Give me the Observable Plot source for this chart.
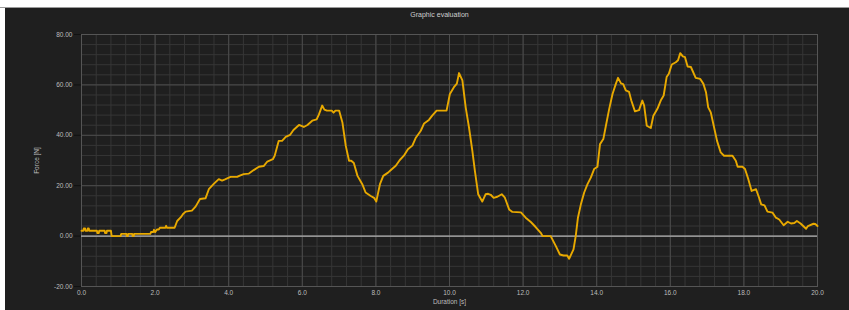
<!DOCTYPE html>
<html>
<head>
<meta charset="utf-8">
<script src="https://cdn.jsdelivr.net/npm/d3@7"></script>
<script src="https://cdn.jsdelivr.net/npm/@observablehq/plot@0.6"></script>
<style>
  html, body { margin: 0; padding: 0; background: #ffffff; }
  body { width: 849px; height: 310px; position: relative; overflow: hidden; }
  #topline { position: absolute; left: 0; top: 7px; width: 849px; height: 1px; background: #9a9a9a; }
  #panel { position: absolute; left: 5px; top: 8px; width: 844px; height: 302px; background: #1f1f1f; }
  #panel svg { display: block; background: transparent; }
</style>
</head>
<body>
<div id="topline"></div>
<div id="panel"></div>
<script>
const chartTitle = "Graphic evaluation";
const xLabel = "Duration [s]";
const yLabel = "Force [N]";
const xTicks = [0, 2, 4, 6, 8, 10, 12, 14, 16, 18, 20];
const yTicks = [-20, 0, 20, 40, 60, 80];
const xMinorTicks = d3.range(0, 20.001, 0.4);
const yMinorTicks = d3.range(-20, 80.001, 4);

// time in seconds
const duration = [
  0, 0.05, 0.06, 0.1, 0.11, 0.16, 0.17, 0.2, 0.21, 0.42, 0.43, 0.47, 0.48, 0.63, 0.64, 0.68, 0.69, 0.8, 0.82,
  1.06, 1.08, 1.22, 1.23, 1.26, 1.27, 1.38, 1.39, 1.42, 1.43, 1.87, 1.89, 1.95, 1.97, 2.0, 2.05, 2.1, 2.13,
  2.28, 2.3, 2.32, 2.53, 2.6, 2.7, 2.76, 2.83, 3.0, 3.1, 3.22, 3.37, 3.46, 3.6, 3.73, 3.82, 3.9, 4.05, 4.23,
  4.3, 4.41, 4.55, 4.68, 4.82, 4.95, 5.05, 5.2, 5.25, 5.36, 5.45, 5.55, 5.67, 5.76, 5.91, 6.04, 6.14, 6.27,
  6.39, 6.45, 6.54, 6.6, 6.67, 6.8, 6.85, 6.9, 7.0, 7.09, 7.18, 7.27, 7.33, 7.4, 7.5, 7.63, 7.72, 7.86, 7.95,
  8.01, 8.11, 8.2, 8.33, 8.4, 8.54, 8.65, 8.76, 8.87, 8.99, 9.08, 9.22, 9.31, 9.44, 9.53, 9.65, 9.92, 10.01,
  10.12, 10.2, 10.26, 10.35, 10.44, 10.53, 10.62, 10.69, 10.78, 10.89, 10.98, 11.05, 11.12, 11.2, 11.3, 11.42,
  11.5, 11.62, 11.71, 11.94, 12.07, 12.21, 12.34, 12.48, 12.53, 12.75, 12.89, 13.0, 13.1, 13.2, 13.25, 13.37,
  13.43, 13.49, 13.57, 13.66, 13.75, 13.84, 13.93, 14.02, 14.09, 14.18, 14.25, 14.34, 14.43, 14.52, 14.58,
  14.66, 14.72, 14.79, 14.88, 14.94, 15.04, 15.15, 15.24, 15.29, 15.36, 15.47, 15.54, 15.65, 15.74, 15.82,
  15.9, 15.96, 16.04, 16.15, 16.21, 16.27, 16.34, 16.4, 16.47, 16.56, 16.69, 16.81, 16.9, 16.97, 17.03, 17.1,
  17.18, 17.27, 17.37, 17.46, 17.69, 17.78, 17.83, 17.96, 18.03, 18.12, 18.21, 18.33, 18.41, 18.47, 18.56,
  18.64, 18.78, 18.87, 18.96, 19.08, 19.19, 19.28, 19.37, 19.44, 19.54, 19.69, 19.74, 19.89, 19.94, 20.0
];
// force in newtons
const force = [
  2.1, 2.1, 3, 3, 2.1, 2.1, 3, 3, 2.1, 2.1, 1.2, 1.2, 2.1, 2.1, 1.2, 1.2, 2.1, 2.1, 0,
  0, 0.9, 0.9, 0, 0, 0.9, 0.9, 0, 0, 0.9, 0.9, 1.6, 1.6, 2.5, 1.6, 2.6, 2.6, 3.3,
  3.3, 4.1, 3.3, 3.3, 6, 7.5, 8.8, 9.7, 10.1, 11.7, 14.7, 15, 18.6, 20.8, 22.6, 22, 22.5, 23.5, 23.5,
  24, 24.6, 24.8, 26.2, 27.5, 27.8, 29.6, 30.5, 31.9, 37.8, 37.8, 39.4, 40.2, 42.1, 44.1, 43.3, 44.1, 45.8,
  46.3, 48.2, 51.8, 50.2, 49.8, 49.8, 49, 49.8, 49.8, 45.1, 35.9, 29.9, 29.9, 29, 23.9, 20.6, 17.3, 15.9, 15.2,
  13.7, 20.6, 23.9, 25.2, 26.1, 27.9, 30.2, 31.9, 34.5, 35.9, 38.9, 41.8, 44.7, 46.1, 47.8, 49.8, 49.8, 56.4,
  59.1, 60.5, 64.7, 61.8, 51.1, 43.1, 33.9, 25.9, 16.6, 13.7, 16.6, 16.8, 16.4, 15.2, 15.6, 16.6,
  15.4, 10.6, 9.6, 9.4, 7.3, 5.6, 3.6, 1.3, 0, 0, -4, -7.3, -7.7, -7.7, -9, -5.3,
  0, 7.3, 12.6, 17.3, 20.6, 23.2, 26.6, 27.5, 36.5, 38.5, 43.8, 50.5, 56.4, 60.4, 62.8,
  60.6, 60.3, 57.8, 57.2, 53.8, 49.5, 50, 53.8, 51.8, 43.8, 42.9, 47.8, 50.5, 53.8, 55.8,
  63.1, 64.4, 68.1, 69, 69.8, 72.6, 71.3, 71, 67.3, 67.1, 62.8, 62.4, 60.4, 57.1, 51.1, 49.1,
  43.8, 37.8, 33.2, 31.9, 31.9, 29.9, 27.5, 27.5, 26.6, 22.6, 17.9, 18.6, 15.3, 12.6, 12.2,
  9.7, 9.3, 7.3, 6.6, 4.3, 5.7, 5, 5.2, 6, 5, 2.9, 4, 4.9, 4.8, 4
];

const data = duration.map((t, i) => ({t, f: force[i]}));

const font = "'Liberation Sans', Arial, sans-serif";

const chart = Plot.plot({
  width: 844,
  height: 302,
  marginLeft: 76,
  marginRight: 32,
  marginTop: 26,
  marginBottom: 24,
  style: { background: "transparent", fontFamily: font, fontSize: "6.5px", color: "#bdbdbd" },
  x: { domain: [0, 20] },
  y: { domain: [-20, 80] },
  marks: [
    Plot.gridX(xMinorTicks, { stroke: "#363636", strokeOpacity: 1 }),
    Plot.gridY(yMinorTicks, { stroke: "#363636", strokeOpacity: 1 }),
    Plot.gridX(xTicks, { stroke: "#4c4c4c", strokeOpacity: 1 }),
    Plot.gridY(yTicks, { stroke: "#4c4c4c", strokeOpacity: 1 }),
    Plot.frame({ stroke: "#555555" }),
    Plot.ruleY([0], { stroke: "#b0b0b0", strokeWidth: 1.2 }),
    Plot.axisY(yTicks, {
      tickFormat: d => d.toFixed(2), tickSize: 7, tickPadding: 2,
      stroke: "#111111", fill: "#bdbdbd", fontSize: 6.5,
      label: yLabel, labelAnchor: "center", labelOffset: 47, labelArrow: "none"
    }),
    Plot.axisX(xTicks, {
      tickFormat: d => d.toFixed(1), tickSize: 0, tickPadding: 4,
      fill: "#bdbdbd", fontSize: 6.5,
      label: xLabel, labelAnchor: "center", labelOffset: 17, labelArrow: "none"
    }),
    Plot.line(data, { x: "t", y: "f", stroke: "#e8a900", strokeWidth: 1.9 }),
    Plot.text([chartTitle], { frameAnchor: "top", dy: -22, dx: -10, fill: "#cfcfcf", fontSize: 7 })
  ]
});
document.getElementById("panel").appendChild(chart);
</script>
</body>
</html>
